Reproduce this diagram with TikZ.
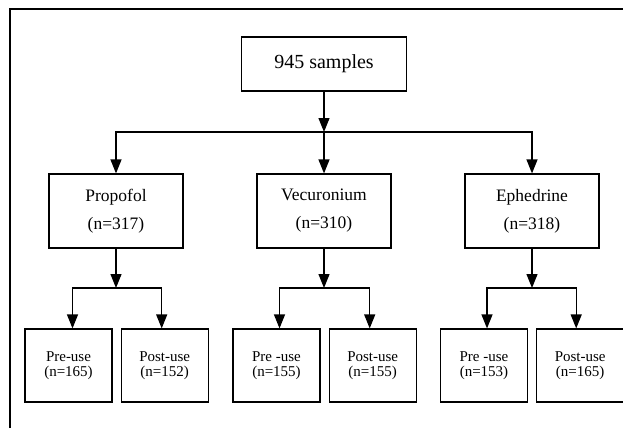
\documentclass[tikz,border=0pt]{standalone}
\usepackage{fontspec}
\setmainfont{Liberation Serif}
\usetikzlibrary{positioning, arrows.meta}

\begin{document}
\begin{tikzpicture}[x=1pt, y=-1pt, line width=1.2pt,
    box/.style={draw, align=center, inner sep=0pt},
    topbox/.style={box, minimum width=165pt, minimum height=54pt, font=\fontsize{20}{24}\selectfont},
    drugbox/.style={box, minimum width=134pt, minimum height=74pt, font=\fontsize{17.5}{28}\selectfont},
    usebox/.style={box, minimum width=87pt, minimum height=73pt, font=\fontsize{15}{15.5}\selectfont},
    arr/.style={-{Triangle[length=14pt, width=11pt]}}]
    % Koordinaten in Pixeln des Originals (y nach unten)
    \useasboundingbox (0,0) rectangle (623,428);

    % --- RAHMEN ---
    \draw[line width=1.5pt] (10,428) -- (10,9) -- (623,9);

    % --- 1. GESAMT ---
    \node[topbox] (total) at (324,64) {945 samples};
    \coordinate (split) at (324,132);

    % --- 2. WIRKSTOFFE ---
    \node[drugbox] (prop) at (116,211) {Propofol\\(n=317)};
    \node[drugbox] (vecu) at (324,211) {Vecuronium\\(n=310)};
    \node[drugbox] (ephe) at (532,211) {Ephedrine\\(n=318)};

    \draw[arr] (total) -- (split);
    \draw[arr] (split) -| (prop);
    \draw[arr] (split) -- (vecu);
    \draw[arr] (split) -| (ephe);

    % --- 3. VOR / NACH ANWENDUNG ---
    \node[usebox] (pre1) at (68.5,365.5) {Pre-use\\(n=165)};
    \node[usebox, right=8pt of pre1] (post1) {Post-use\\(n=152)};
    \node[usebox] (pre2) at (276.5,365.5) {Pre -use\\(n=155)};
    \node[usebox, right=8pt of pre2] (post2) {Post-use\\(n=155)};
    \node[usebox] (pre3) at (484,365.5) {Pre -use\\(n=153)};
    \node[usebox, right=8pt of pre3] (post3) {Post-use\\(n=165)};

    % Verzweigungen (hartcodierte Hoehe)
    \coordinate (j1) at (116,288);
    \coordinate (j2) at (324,288);
    \coordinate (j3) at (532,288);
    \draw[arr] (prop) -- (j1);
    \draw[arr] (j1) -| ([xshift=4pt]pre1.north);
    \draw[arr] (j1) -| ([xshift=-3pt]post1.north);
    \draw[arr] (vecu) -- (j2);
    \draw[arr] (j2) -| ([xshift=3pt]pre2.north);
    \draw[arr] (j2) -| ([xshift=-3pt]post2.north);
    \draw[arr] (ephe) -- (j3);
    \draw[arr] (j3) -| ([xshift=3pt]pre3.north);
    \draw[arr] (j3) -| ([xshift=-4pt]post3.north);

\end{tikzpicture}
\end{document}
